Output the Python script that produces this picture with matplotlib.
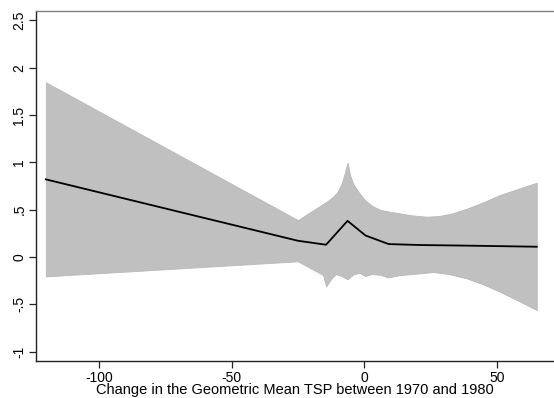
import numpy as np
import matplotlib.pyplot as plt

plt.rcParams['font.family'] = ['Liberation Sans', 'DejaVu Sans']

# Fitted line
fit_x = [-120, -25, -14.4, -6.3, 0.5, 9.2, 21, 40, 65]
fit_y = [0.82, 0.172, 0.130, 0.382, 0.227, 0.137, 0.127, 0.120, 0.109]

# Upper confidence bound
upper_x = [-120, -25, -20, -14.2, -11.7, -10, -8.5, -7.5, -6.3, -5.3, -4.1, -2, 0.3, 3, 5.9, 9.7,
           13.5, 18, 23.5, 28, 33, 38.6, 45, 51.1, 58, 65]
upper_y = [1.845, 0.39, 0.48, 0.584, 0.637, 0.69, 0.778, 0.87, 0.996, 0.86, 0.77, 0.68, 0.60, 0.54,
           0.50, 0.478, 0.461, 0.44, 0.426, 0.432, 0.46, 0.51, 0.58, 0.655, 0.72, 0.785]

# Lower confidence bound
lower_x = [-120, -25, -15.5, -14.4, -12.3, -10.7, -8.5, -6.3, -4.1, -1.9, 0.3, 2.8, 5.9, 9.0,
           13.5, 21, 26, 32, 38.6, 45, 51.1, 58, 65]
lower_y = [-0.204, -0.045, -0.19, -0.31, -0.225, -0.18, -0.2, -0.235, -0.183, -0.166, -0.2, -0.18,
           -0.187, -0.215, -0.19, -0.172, -0.158, -0.18, -0.225, -0.29, -0.366, -0.46, -0.56]

x_ticks = [-100, -50, 0, 50]
y_ticks = [-1, -0.5, 0, 0.5, 1, 1.5, 2, 2.5]
y_ticklabels = ['-1', '-.5', '0', '.5', '1', '1.5', '2', '2.5']

fig = plt.figure(figsize=(5.54, 3.98), dpi=100)
ax = fig.add_axes([0.065, 0.0935, 0.935, 0.8795])

# build common grid for the band
grid = np.union1d(upper_x, lower_x)
ax.fill_between(grid, np.interp(grid, lower_x, lower_y), np.interp(grid, upper_x, upper_y),
                color='#c0c0c0', edgecolor='#b8b8b8', linewidth=0.6)
ax.plot(fit_x, fit_y, color='black', linewidth=1.3)

ax.set_xlim(-123.7, 71.5)
ax.set_ylim(-1.095, 2.6)
ax.set_xticks(x_ticks)
ax.set_xticklabels([str(v) for v in x_ticks])
ax.set_yticks(y_ticks)
ax.set_yticklabels(y_ticklabels, rotation=90, va='center')

ax.spines['right'].set_visible(False)
ax.spines['top'].set_color('#808080')
ax.spines['left'].set_color('#222222')
ax.spines['bottom'].set_color('#222222')
for s in ax.spines.values():
    s.set_linewidth(1.0)

ax.tick_params(axis='both', labelsize=10, length=5, width=0.9, color='#222222', pad=2)
ax.set_xlabel('Change in the Geometric Mean TSP between 1970 and 1980', fontsize=10.5, labelpad=-1)

fig.savefig('out.png', dpi=100)
